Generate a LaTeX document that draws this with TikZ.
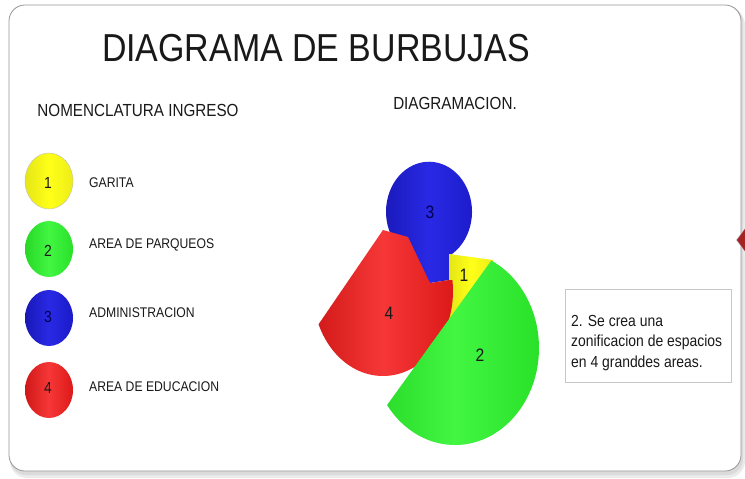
\documentclass[tikz,border=0pt]{standalone}
\usepackage{fontspec}
\setmainfont{Liberation Sans}[FakeStretch=0.87]
\definecolor{cY}{RGB}{255,255,25}
\definecolor{cG}{RGB}{45,245,45}
\definecolor{cB}{RGB}{30,30,228}
\definecolor{cR}{RGB}{245,28,28}
\definecolor{frameline}{RGB}{150,150,150}
\definecolor{txt}{RGB}{25,25,25}
\definecolor{navred}{RGB}{165,35,35}
\tikzset{
  lbl/.style={font=\fontsize{14}{16}\selectfont, anchor=west, text=txt, inner sep=0},
  num/.style={font=\fontsize{16}{18}\selectfont, inner sep=0, text=txt},
  bnum/.style={font=\fontsize{18}{20}\selectfont, inner sep=0, text=txt},
  head/.style={font=\fontsize{17.5}{20}\selectfont, inner sep=0, text=txt},
  legbubble/.style={x radius=24, y radius=28},
  shY/.style={left color=cY!90!black, right color=cY!93!black, middle color=cY},
  shG/.style={left color=cG!88!black, right color=cG!92!black, middle color=cG!90!white},
  shB/.style={left color=cB!80!black, right color=cB!88!black, middle color=cB!95!white},
  shR/.style={left color=cR!85!black, right color=cR!90!black, middle color=cR!88!white}
}
\begin{document}
\begin{tikzpicture}[x=1pt,y=-1pt]
\useasboundingbox (0,0) rectangle (745,479);
% slide frame with soft shadow
\fill[black!8, rounded corners=17] (10,8) rectangle (745,478);
\fill[black!14, rounded corners=16] (10,6) rectangle (743,475);
\filldraw[fill=white, draw=frameline, line width=0.8, rounded corners=16] (9,5) rectangle (741,471);
% navigation arrow at right edge
\fill[black!25] (746,227) -- (736,240) -- (746,253) -- cycle;
\fill[navred] (745,229) -- (737,240) -- (745,251) -- cycle;

% headings
\node[inner sep=0, text=txt, font=\fontsize{39}{42}\selectfont] (title) at (316,48) {DIAGRAMA DE BURBUJAS};
\node[head] (nom) at (138,110) {NOMENCLATURA INGRESO};
\node[head] (diag) at (455,103) {DIAGRAMACION.};

% legend
\shade[shY] (49,181) ellipse [legbubble];
\draw[black!25, line width=0.4] (49,181) ellipse [legbubble];
\shade[shG] (49,249) ellipse [legbubble];
\shade[shB] (49,318) ellipse [legbubble];
\shade[shR] (49,390) ellipse [legbubble];
\node[num] (n1) at (48,183) {1};
\node[num] (n2) at (48,251) {2};
\node[num, text=black!70!blue] (n3) at (48,317) {3};
\node[num] (n4) at (48,388) {4};
\node[lbl] (l1) at (89,183) {GARITA};
\node[lbl] (l2) at (89,245) {AREA DE PARQUEOS};
\node[lbl] (l3) at (89,313) {ADMINISTRACION};
\node[lbl] (l4) at (89,387) {AREA DE EDUCACION};

% bubble cluster
% blue (3): circle with a tail
\shade[shB] (449,256) arc[start angle=62.3, end angle=-240, x radius=43, y radius=50]
  -- (430,283) -- (449,280) -- cycle;
% yellow (1)
\shade[shY] (449,254) -- (493,260) -- (480,320) -- (449,330) -- cycle;
% red (4): circle cut by a chord, with a notch for the blue tail
\begin{scope}
  \clip (383,230) -- (408,237) -- (430,283) -- (449,280) -- (560,280) -- (560,470) -- (219,470) -- cycle;
  \shade[shR] (383,291) ellipse [x radius=70, y radius=85];
\end{scope}
% green (2): circle cut by a chord
\begin{scope}
  \clip (535,200) -- (700,200) -- (700,480) -- (333,480) -- cycle;
  \shade[shG] (455,348) ellipse [x radius=84, y radius=97];
\end{scope}
\node[bnum, text=black!70!blue] (b3) at (430,212) {3};
\node[bnum] (b1) at (464,275) {1};
\node[bnum] (b4) at (389,313) {4};
\node[bnum] (b2) at (480,355) {2};

% note box
\draw[black!22, line width=0.8] (565,289) rectangle (731,382);
\node[inner sep=0, anchor=north west, text=txt, font=\fontsize{16}{20.5}\selectfont, align=left] (note) at (571,315)
  {2. Se crea una\\zonificacion de espacios\\en 4 granddes areas.};
\end{tikzpicture}
\end{document}
